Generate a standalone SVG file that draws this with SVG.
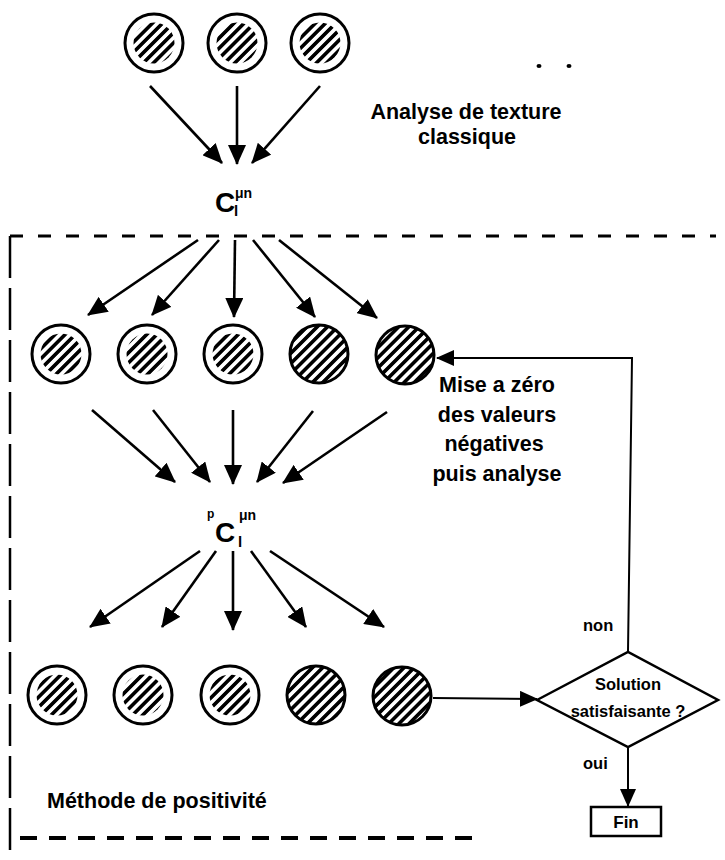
<svg xmlns="http://www.w3.org/2000/svg" width="725" height="860" viewBox="0 0 725 860">
<style>
.t{font-family:"Liberation Sans",Arial,sans-serif;font-weight:bold;fill:#000}
.big{font-size:21.5px}
.sm{font-size:16.5px}
.ring{fill:#fff;stroke:#000;stroke-width:3}
.inner{fill:url(#h);stroke:none}
.full{fill:url(#h);stroke:#000;stroke-width:3}
.arr{stroke:#000;stroke-width:2.6;fill:none;marker-end:url(#ah)}
.thinA{stroke:#000;stroke-width:2;fill:none;marker-end:url(#ah2)}
.box{fill:#fff;stroke:#000;stroke-width:2.5}
</style>
<defs>
<pattern id="h" width="7.2" height="7.2" patternUnits="userSpaceOnUse" patternTransform="rotate(-45)">
<rect width="7.2" height="7.2" fill="#fff"/>
<rect width="7.2" height="3.6" fill="#000"/>
</pattern>
<marker id="ah" viewBox="0 0 20 18" refX="19" refY="9" markerWidth="20" markerHeight="18" markerUnits="userSpaceOnUse" orient="auto">
<path d="M0,0 L20,9 L0,18 Z" fill="#000"/>
</marker>
<marker id="ah2" viewBox="0 0 18 16" refX="17" refY="8" markerWidth="18" markerHeight="16" markerUnits="userSpaceOnUse" orient="auto">
<path d="M0,0 L18,8 L0,16 Z" fill="#000"/>
</marker>
</defs>

<!-- frame -->
<g id="frame">
<line x1="10" y1="236" x2="10" y2="856" stroke="#000" stroke-width="2.5" stroke-dasharray="42 10"/>
<line x1="10" y1="236" x2="716" y2="236" stroke="#000" stroke-width="3" stroke-dasharray="13 15"/>
<line x1="20" y1="838" x2="472" y2="838" stroke="#000" stroke-width="4" stroke-dasharray="17 12"/>
</g>

<!-- top row -->
<g id="t1"><circle class="ring" cx="154" cy="43" r="29"/><circle class="inner" cx="154" cy="43" r="20.5"/></g>
<g id="t2"><circle class="ring" cx="237" cy="43" r="29"/><circle class="inner" cx="237" cy="43" r="20.5"/></g>
<g id="t3"><circle class="ring" cx="320" cy="43" r="29"/><circle class="inner" cx="320" cy="43" r="20.5"/></g>

<!-- row 2 -->
<g id="a1"><circle class="ring" cx="61" cy="354" r="29"/><circle class="inner" cx="61" cy="354" r="20.5"/></g>
<g id="a2"><circle class="ring" cx="147" cy="354" r="29"/><circle class="inner" cx="147" cy="354" r="20.5"/></g>
<g id="a3"><circle class="ring" cx="233" cy="354" r="29"/><circle class="inner" cx="233" cy="354" r="20.5"/></g>
<g id="a4"><circle class="full" cx="319" cy="354" r="29"/></g>
<g id="a5"><circle class="full" cx="405" cy="355" r="29"/></g>

<!-- row 3 -->
<g id="b1"><circle class="ring" cx="57" cy="695" r="29"/><circle class="inner" cx="57" cy="695" r="20.5"/></g>
<g id="b2"><circle class="ring" cx="143" cy="695" r="29"/><circle class="inner" cx="143" cy="695" r="20.5"/></g>
<g id="b3"><circle class="ring" cx="230" cy="695" r="29"/><circle class="inner" cx="230" cy="695" r="20.5"/></g>
<g id="b4"><circle class="full" cx="316" cy="695" r="29"/></g>
<g id="b5"><circle class="full" cx="402" cy="696" r="29"/></g>

<!-- labels -->
<g id="c1">
<text class="t" x="215" y="212" font-size="28">C</text>
<text class="t" x="234" y="216" font-size="15">l</text>
<text class="t" x="235" y="198" font-size="14">μn</text>
</g>
<g id="c2">
<text class="t" x="207" y="518" font-size="12">p</text>
<text class="t" x="215" y="542" font-size="28">C</text>
<text class="t" x="238" y="547" font-size="15">l</text>
<text class="t" x="239" y="520" font-size="14">μn</text>
</g>
<g id="lbl-analyse">
<text class="t big" x="466" y="119" text-anchor="middle">Analyse de texture</text>
<text class="t big" x="467" y="144" text-anchor="middle">classique</text>
</g>
<g id="dots">
<ellipse cx="539" cy="66" rx="2.5" ry="2"/>
<ellipse cx="569" cy="66" rx="2.5" ry="2"/>
</g>
<g id="lbl-mise">
<text class="t big" x="497" y="392" text-anchor="middle">Mise a zéro</text>
<text class="t big" x="497" y="422" text-anchor="middle">des valeurs</text>
<text class="t big" x="494" y="451" text-anchor="middle">négatives</text>
<text class="t big" x="497" y="481" text-anchor="middle">puis analyse</text>
</g>
<g id="lbl-methode">
<text class="t big" x="47" y="808">Méthode de positivité</text>
</g>

<!-- decision -->
<g id="decision">
<polygon class="box" points="537,700 628,652 718,700 628,747"/>
<text class="t sm" x="628" y="690" text-anchor="middle">Solution</text>
<text class="t sm" x="628" y="717" text-anchor="middle">satisfaisante ?</text>
</g>
<g id="fin">
<rect class="box" x="591" y="807" width="70" height="29"/>
<text class="t" x="626" y="828" font-size="17" text-anchor="middle">Fin</text>
</g>
<g id="lbl-non"><text class="t sm" x="583" y="631">non</text></g>
<g id="lbl-oui"><text class="t sm" x="583" y="769">oui</text></g>

<!-- connectors -->
<g id="connectors">
<line class="arr" x1="150" y1="86" x2="222" y2="163"/>
<line class="arr" x1="237" y1="86" x2="237" y2="164"/>
<line class="arr" x1="320" y1="86" x2="252" y2="163"/>

<line class="arr" x1="198" y1="240" x2="88" y2="315"/>
<line class="arr" x1="219" y1="240" x2="152" y2="315"/>
<line class="arr" x1="235" y1="240" x2="234" y2="317"/>
<line class="arr" x1="253" y1="240" x2="315" y2="317"/>
<line class="arr" x1="279" y1="240" x2="377" y2="318"/>

<line class="arr" x1="92" y1="410" x2="175" y2="482"/>
<line class="arr" x1="153" y1="410" x2="210" y2="482"/>
<line class="arr" x1="233" y1="410" x2="233" y2="484"/>
<line class="arr" x1="313" y1="411" x2="257" y2="482"/>
<line class="arr" x1="387" y1="412" x2="283" y2="483"/>

<line class="arr" x1="200" y1="551" x2="90" y2="627"/>
<line class="arr" x1="216" y1="551" x2="162" y2="627"/>
<line class="arr" x1="233" y1="551" x2="233" y2="630"/>
<line class="arr" x1="251" y1="551" x2="306" y2="627"/>
<line class="arr" x1="270" y1="551" x2="384" y2="627"/>

<line class="thinA" x1="433" y1="698" x2="537" y2="699"/>
<polyline class="thinA" points="628,652 632,358 437,358"/>
<line class="thinA" x1="628" y1="747" x2="628" y2="806"/>
</g>
</svg>
